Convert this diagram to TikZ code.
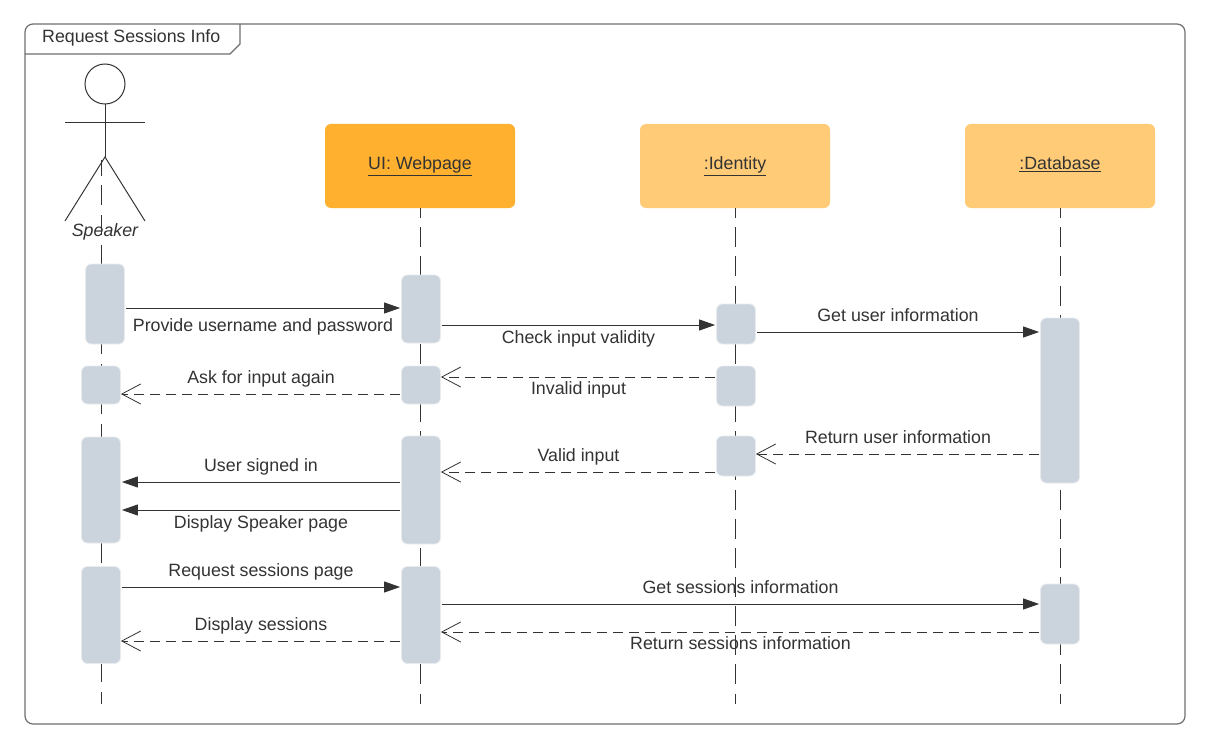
\documentclass[tikz,border=0pt]{standalone}
\usepackage{fontspec}
\setmainfont{Liberation Sans}
\usetikzlibrary{arrows.meta,positioning}
\definecolor{barfill}{HTML}{CBD3DC}
\definecolor{barrim}{HTML}{E9ECEF}
\definecolor{inkgray}{HTML}{333333}
\definecolor{framegray}{HTML}{707070}
\definecolor{webfill}{HTML}{FFB02E}
\definecolor{dbfill}{HTML}{FFCB76}
\tikzset{
  objbox/.style={rounded corners=6pt,minimum width=190pt,minimum height=84pt,inner sep=0pt,text=inkgray,text height=12pt,text depth=4pt},
  actbar/.style={draw=barrim,fill=barfill,line width=0.8pt,rounded corners=6pt,minimum width=39pt,inner sep=0pt},
  lifeline/.style={draw=inkgray,line width=1pt,dash pattern=on 20pt off 9.15pt,dash phase=10.15pt},
  msgcall/.style={draw=inkgray,line width=0.9pt,-{Triangle[length=16pt,width=11pt]},shorten >=1pt,shorten <=1pt},
  msgback/.style={draw=inkgray,line width=0.9pt,dash pattern=on 10pt off 6pt,-{Straight Barb[length=19pt,width=20pt,line width=0.8pt]},shorten <=1pt},
  msgtext/.style={midway,text=inkgray,inner sep=0pt,text height=14pt,text depth=2pt},
  msgup/.style={msgtext,yshift=17pt},
  msgdown/.style={msgtext,yshift=-12pt}
}
\begin{document}
\begin{tikzpicture}[x=1pt,y=-1pt,font=\fontsize{17.8}{20}\selectfont]
    \useasboundingbox (0,0) rectangle (1209,746);
    \fill[white] (0,0) rectangle (1209,746);

    % frame
    \draw[draw=framegray,line width=1.2pt,rounded corners=8pt] (25,24) rectangle (1185,724);
    \draw[draw=framegray,line width=1.2pt] (25,54) -- (230,54) -- (240,44) -- (240,24);
    \node[anchor=west,inner sep=0pt,text=inkgray,text height=14pt,text depth=2pt] (title) at (42,37) {Request Sessions Info};

    % lifeline heads
    \node[objbox,fill=webfill] (web) at (420,166) {\underline{UI: Webpage}};
    \node[objbox,fill=dbfill] (identity) at (735,166) {\underline{:Identity}};
    \node[objbox,fill=dbfill] (database) at (1060,166) {\underline{:Database}};

    % stick figure
    \node[draw=inkgray,circle,line width=1pt,minimum size=40pt,inner sep=0pt] (head) at (105,84) {};
    \coordinate (hip) at (105,157);
    \coordinate (spktop) at (101,160);
    \coordinate (lifeend) at (0,704);
    \draw[draw=inkgray,line width=1pt] (head) -- (hip);
    \draw[draw=inkgray,line width=1pt] (65,123) -- (145,123);
    \draw[draw=inkgray,line width=1pt] (65,221) -- (hip) -- (145,221);

    % lifelines
    \draw[lifeline,dash pattern=on 20pt off 9.8pt,dash phase=4.4pt] (spktop) -- (spktop |- lifeend);
    \draw[lifeline] (web.south) -- (web |- lifeend);
    \draw[lifeline] (identity.south) -- (identity |- lifeend);
    \draw[lifeline] (database.south) -- (database |- lifeend);
    \node[text=inkgray,inner sep=0pt,text height=14pt,text depth=2pt] (speaker) at (105,230) {\itshape Speaker};

    % activation bars
    \node[actbar,minimum height=80pt] (spkA) at (105,304) {};
    \node[actbar,minimum height=38pt] (spkB) at (101,385) {};
    \node[actbar,minimum height=106pt] (spkC) at (101,490) {};
    \node[actbar,minimum height=97pt] (spkD) at (101,615) {};

    \node[actbar,minimum height=68pt] (webA) at (421,309) {};
    \node[actbar,minimum height=38pt] (webB) at (421,385) {};
    \node[actbar,minimum height=108pt] (webC) at (421,490) {};
    \node[actbar,minimum height=97pt] (webD) at (421,615) {};

    \node[actbar,minimum height=40pt] (idA) at (736,324) {};
    \node[actbar,minimum height=40pt] (idB) at (736,386) {};
    \node[actbar,minimum height=40pt] (idC) at (736,456) {};

    \node[actbar,minimum height=165pt] (dbA) at (1060,400.5) {};
    \node[actbar,minimum height=60pt] (dbB) at (1060,614) {};

    % message heights
    \coordinate (m1) at (0,308);
    \coordinate (m2) at (0,325);
    \coordinate (m3) at (0,332);
    \coordinate (m4) at (0,377);
    \coordinate (m5) at (0,394);
    \coordinate (m6) at (0,454);
    \coordinate (m7) at (0,472);
    \coordinate (m8) at (0,482);
    \coordinate (m9) at (0,510);
    \coordinate (m10) at (0,587);
    \coordinate (m11) at (0,604);
    \coordinate (m12) at (0,632);
    \coordinate (m13) at (0,641);

    % messages
    \draw[msgcall] (spkA.east |- m1) -- node[msgtext,yshift=-17pt] {Provide username and password} (webA.west |- m1);
    \draw[msgcall] (webA.east |- m2) -- node[msgdown] {Check input validity} (idA.west |- m2);
    \draw[msgcall] (idA.east |- m3) -- node[msgup] {Get user information} (dbA.west |- m3);
    \draw[msgback] (idB.west |- m4) -- node[msgtext,yshift=-11pt] {Invalid input} (webB.east |- m4);
    \draw[msgback] (webB.west |- m5) -- node[msgup] {Ask for input again} (spkB.east |- m5);
    \draw[msgback] (dbA.west |- m6) -- node[msgup] {Return user information} (idC.east |- m6);
    \draw[msgback] (idC.west |- m7) -- node[msgup] {Valid input} (webC.east |- m7);
    \draw[msgcall] (webC.west |- m8) -- node[msgup] {User signed in} (spkC.east |- m8);
    \draw[msgcall] (webC.west |- m9) -- node[msgdown] {Display Speaker page} (spkC.east |- m9);
    \draw[msgcall] (spkD.east |- m10) -- node[msgup] {Request sessions page} (webD.west |- m10);
    \draw[msgcall] (webD.east |- m11) -- node[msgup] {Get sessions information} (dbB.west |- m11);
    \draw[msgback] (dbB.west |- m12) -- node[msgtext,yshift=-11pt] {Return sessions information} (webD.east |- m12);
    \draw[msgback] (webD.west |- m13) -- node[msgup] {Display sessions} (spkD.east |- m13);
\end{tikzpicture}
\end{document}
